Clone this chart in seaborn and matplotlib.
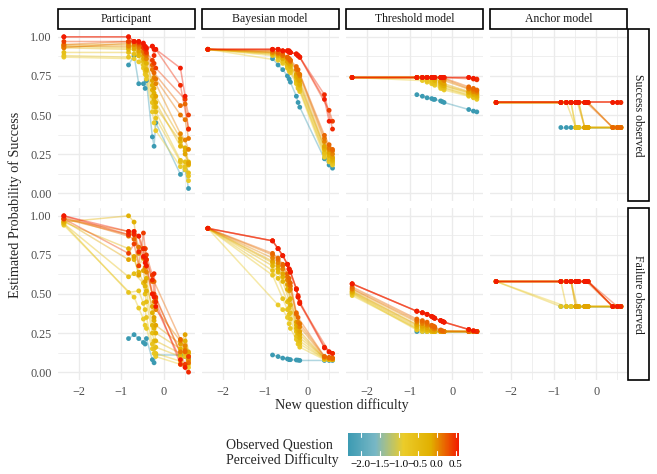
import matplotlib
matplotlib.use("Agg")
import matplotlib.pyplot as plt
import numpy as np
import pandas as pd
import seaborn as sns
from matplotlib.colorbar import ColorbarBase
from matplotlib.colors import LinearSegmentedColormap, Normalize
from matplotlib.patches import Rectangle

# difficulty of each question on the x axis (observed = row, new = column)
difficulty = [-2.35, -0.83, -0.70, -0.59, -0.48, -0.44, -0.41, -0.27, -0.23, -0.19, 0.39, 0.50, 0.58]
# perceived difficulty of the observed question (colour of each line)
perceived = [-2.35, -0.85, -0.70, -0.55, -0.30, -0.20, -0.10, 0.05, 0.12, 0.20, 0.40, 0.50, 0.58]

models = ["Participant", "Bayesian model", "Threshold model", "Anchor model"]
outcomes = ["Success observed", "Failure observed"]

participant_success = [
    [None, 0.82, 0.88, 0.70, 0.70, 0.67, 0.72, 0.36, 0.30, 0.45, 0.12, 0.15, 0.03],
    [0.87, None, 0.86, 0.84, 0.80, 0.76, 0.73, 0.52, 0.45, 0.40, 0.17, 0.15, 0.08],
    [0.88, 0.87, None, 0.88, 0.82, 0.78, 0.75, 0.58, 0.55, 0.48, 0.20, 0.17, 0.11],
    [0.90, 0.90, 0.89, None, 0.84, 0.80, 0.78, 0.62, 0.57, 0.52, 0.21, 0.20, 0.13],
    [0.93, 0.92, 0.92, 0.88, None, 0.85, 0.79, 0.66, 0.60, 0.55, 0.33, 0.27, 0.18],
    [0.94, 0.93, 0.94, 0.90, 0.86, None, 0.83, 0.69, 0.64, 0.58, 0.30, 0.29, 0.20],
    [0.95, 0.95, 0.93, 0.91, 0.88, 0.86, None, 0.72, 0.67, 0.62, 0.35, 0.25, 0.19],
    [0.94, 0.94, 0.95, 0.93, 0.90, 0.89, 0.86, None, 0.74, 0.70, 0.38, 0.34, 0.28],
    [0.93, 0.96, 0.96, 0.94, 0.91, 0.89, 0.88, 0.79, None, 0.73, 0.50, 0.47, 0.35],
    [0.95, 0.97, 0.97, 0.95, 0.93, 0.90, 0.89, 0.82, 0.77, None, 0.56, 0.57, 0.41],
    [0.97, 0.97, 0.97, 0.96, 0.93, 0.92, 0.90, 0.85, 0.83, 0.80, None, 0.60, 0.50],
    [1.00, 1.00, 0.97, 0.97, 0.95, 0.93, 0.92, 0.94, 0.88, 0.92, 0.69, None, 0.41],
    [1.00, 1.00, 0.97, 0.97, 0.96, 0.94, 0.93, 0.94, 0.92, 0.92, 0.80, 0.62, None],
]

participant_failure = [
    [None, 0.215, 0.24, 0.215, 0.19, 0.18, 0.215, 0.08, 0.06, 0.11, 0.11, 0.10, 0.09],
    [0.94, None, 0.48, 0.41, 0.34, 0.30, 0.28, 0.15, 0.12, 0.10, 0.05, 0.04, 0.03],
    [0.95, 0.51, None, 0.52, 0.44, 0.40, 0.35, 0.18, 0.15, 0.12, 0.07, 0.10, 0.05],
    [0.95, 0.61, 0.63, None, 0.57, 0.50, 0.45, 0.25, 0.20, 0.16, 0.10, 0.12, 0.07],
    [0.96, 0.79, 0.72, 0.64, None, 0.55, 0.52, 0.30, 0.28, 0.20, 0.12, 0.15, 0.10],
    [0.96, 1.00, 0.96, 0.68, 0.73, None, 0.60, 0.38, 0.33, 0.25, 0.15, 0.20, 0.12],
    [0.97, 0.72, 0.74, 0.62, 0.65, 0.58, None, 0.42, 0.35, 0.30, 0.18, 0.24, 0.13],
    [0.98, 0.90, 0.88, 0.76, 0.79, 0.67, 0.64, None, 0.45, 0.40, 0.20, 0.17, 0.08],
    [0.98, 0.88, 0.90, 0.80, 0.73, 0.72, 0.68, 0.50, None, 0.47, 0.13, 0.14, 0.10],
    [0.99, 0.87, 0.85, 0.87, 0.79, 0.79, 0.72, 0.58, 0.58, None, 0.21, 0.13, 0.06],
    [0.98, 0.76, 0.82, 0.68, 0.89, 0.79, 0.75, 0.62, 0.50, 0.48, None, 0.05, 0.10],
    [1.00, 0.88, 0.88, 0.77, 0.79, 0.73, 0.72, 0.59, 0.63, 0.45, 0.05, None, 0.00],
    [1.00, 0.90, 0.90, 0.87, 0.74, 0.70, 0.68, 0.50, 0.48, 0.42, 0.08, 0.03, None],
]

bayes_success = [
    [None, 0.86, 0.82, 0.79, 0.75, 0.73, 0.71, 0.62, 0.58, 0.55, 0.22, 0.18, 0.16],
    [0.92, None, 0.85, 0.83, 0.80, 0.78, 0.77, 0.70, 0.67, 0.65, 0.23, 0.20, 0.18],
    [0.92, 0.88, None, 0.84, 0.81, 0.79, 0.78, 0.71, 0.68, 0.66, 0.25, 0.21, 0.19],
    [0.92, 0.89, 0.87, None, 0.82, 0.80, 0.79, 0.72, 0.70, 0.67, 0.26, 0.22, 0.20],
    [0.92, 0.89, 0.88, 0.86, None, 0.82, 0.81, 0.74, 0.72, 0.69, 0.28, 0.24, 0.21],
    [0.92, 0.90, 0.88, 0.86, 0.84, None, 0.82, 0.75, 0.73, 0.70, 0.29, 0.25, 0.22],
    [0.92, 0.90, 0.89, 0.87, 0.84, 0.83, None, 0.76, 0.74, 0.72, 0.30, 0.26, 0.23],
    [0.92, 0.90, 0.89, 0.88, 0.86, 0.85, 0.84, None, 0.77, 0.75, 0.33, 0.28, 0.25],
    [0.92, 0.91, 0.90, 0.88, 0.87, 0.86, 0.85, 0.79, None, 0.76, 0.35, 0.29, 0.27],
    [0.92, 0.91, 0.90, 0.89, 0.87, 0.86, 0.85, 0.81, 0.79, None, 0.37, 0.31, 0.28],
    [0.92, 0.92, 0.92, 0.91, 0.91, 0.91, 0.90, 0.89, 0.88, 0.87, None, 0.53, 0.46],
    [0.92, 0.92, 0.92, 0.91, 0.91, 0.90, 0.90, 0.89, 0.88, 0.87, 0.63, None, 0.41],
    [0.92, 0.92, 0.92, 0.91, 0.91, 0.91, 0.90, 0.89, 0.88, 0.87, 0.60, 0.46, None],
]

bayes_failure = [
    [None, 0.11, 0.10, 0.09, 0.085, 0.08, 0.08, 0.078, 0.077, 0.075, 0.075, 0.075, 0.075],
    [0.92, None, 0.43, 0.40, 0.35, 0.31, 0.28, 0.21, 0.18, 0.16, 0.08, 0.08, 0.08],
    [0.92, 0.62, None, 0.47, 0.40, 0.37, 0.34, 0.23, 0.20, 0.18, 0.085, 0.08, 0.08],
    [0.92, 0.65, 0.60, None, 0.45, 0.41, 0.38, 0.26, 0.23, 0.20, 0.085, 0.08, 0.08],
    [0.92, 0.68, 0.64, 0.58, None, 0.46, 0.43, 0.28, 0.25, 0.22, 0.09, 0.085, 0.08],
    [0.92, 0.70, 0.66, 0.61, 0.53, None, 0.47, 0.30, 0.27, 0.24, 0.09, 0.085, 0.085],
    [0.92, 0.71, 0.68, 0.63, 0.56, 0.52, None, 0.32, 0.29, 0.26, 0.09, 0.09, 0.085],
    [0.92, 0.73, 0.70, 0.66, 0.59, 0.56, 0.53, None, 0.32, 0.29, 0.095, 0.09, 0.085],
    [0.92, 0.75, 0.72, 0.68, 0.61, 0.58, 0.55, 0.37, None, 0.31, 0.10, 0.09, 0.09],
    [0.92, 0.76, 0.73, 0.69, 0.63, 0.60, 0.57, 0.38, 0.35, None, 0.10, 0.095, 0.09],
    [0.92, 0.84, 0.79, 0.745, 0.69, 0.66, 0.645, 0.535, 0.48, 0.44, None, 0.13, 0.12],
    [0.92, 0.84, 0.79, 0.745, 0.69, 0.66, 0.64, 0.53, 0.49, 0.45, 0.16, None, 0.12],
    [0.92, 0.84, 0.79, 0.745, 0.69, 0.66, 0.64, 0.53, 0.48, 0.44, 0.155, 0.13, None],
]

threshold_success = [
    [None, 0.63, 0.62, 0.61, 0.605, 0.60, 0.60, 0.59, 0.585, 0.58, 0.535, 0.525, 0.52],
    [0.74, None, 0.72, 0.71, 0.70, 0.70, 0.69, 0.67, 0.67, 0.66, 0.62, 0.61, 0.60],
    [0.74, 0.74, None, 0.72, 0.71, 0.70, 0.70, 0.68, 0.675, 0.67, 0.625, 0.615, 0.61],
    [0.74, 0.74, 0.74, None, 0.72, 0.71, 0.71, 0.69, 0.68, 0.675, 0.63, 0.62, 0.615],
    [0.74, 0.74, 0.74, 0.74, None, 0.73, 0.72, 0.70, 0.69, 0.685, 0.64, 0.63, 0.62],
    [0.74, 0.74, 0.74, 0.74, 0.74, None, 0.73, 0.71, 0.70, 0.69, 0.645, 0.635, 0.63],
    [0.74, 0.74, 0.74, 0.74, 0.74, 0.74, None, 0.715, 0.705, 0.70, 0.65, 0.64, 0.635],
    [0.74, 0.74, 0.74, 0.74, 0.74, 0.74, 0.74, None, 0.73, 0.72, 0.665, 0.65, 0.645],
    [0.74, 0.74, 0.74, 0.74, 0.74, 0.74, 0.74, 0.74, None, 0.73, 0.67, 0.66, 0.655],
    [0.74, 0.74, 0.74, 0.74, 0.74, 0.74, 0.74, 0.74, 0.74, None, 0.68, 0.67, 0.66],
    [0.74, 0.74, 0.74, 0.74, 0.74, 0.74, 0.74, 0.74, 0.74, 0.74, None, 0.73, 0.725],
    [0.74, 0.74, 0.74, 0.74, 0.74, 0.74, 0.74, 0.74, 0.74, 0.74, 0.74, None, 0.73],
    [0.74, 0.74, 0.74, 0.74, 0.74, 0.74, 0.74, 0.74, 0.74, 0.74, 0.74, 0.735, None],
]

threshold_failure = [
    [None, 0.26, 0.26, 0.26, 0.26, 0.26, 0.26, 0.26, 0.26, 0.26, 0.26, 0.26, 0.26],
    [0.49, None, 0.26, 0.26, 0.26, 0.26, 0.26, 0.26, 0.26, 0.26, 0.26, 0.26, 0.26],
    [0.50, 0.27, None, 0.26, 0.26, 0.26, 0.26, 0.26, 0.26, 0.26, 0.26, 0.26, 0.26],
    [0.505, 0.28, 0.27, None, 0.26, 0.26, 0.26, 0.26, 0.26, 0.26, 0.26, 0.26, 0.26],
    [0.51, 0.29, 0.28, 0.27, None, 0.26, 0.26, 0.26, 0.26, 0.26, 0.26, 0.26, 0.26],
    [0.515, 0.30, 0.29, 0.28, 0.265, None, 0.26, 0.26, 0.26, 0.26, 0.26, 0.26, 0.26],
    [0.52, 0.305, 0.295, 0.285, 0.27, 0.265, None, 0.26, 0.26, 0.26, 0.26, 0.26, 0.26],
    [0.53, 0.32, 0.31, 0.30, 0.29, 0.28, 0.275, None, 0.26, 0.26, 0.26, 0.26, 0.26],
    [0.535, 0.33, 0.32, 0.31, 0.295, 0.29, 0.285, 0.265, None, 0.26, 0.26, 0.26, 0.26],
    [0.545, 0.34, 0.33, 0.32, 0.30, 0.295, 0.29, 0.27, 0.265, None, 0.26, 0.26, 0.26],
    [0.565, 0.39, 0.38, 0.37, 0.357, 0.35, 0.345, 0.33, 0.325, 0.32, None, 0.265, 0.26],
    [0.565, 0.39, 0.38, 0.37, 0.357, 0.35, 0.345, 0.33, 0.325, 0.32, 0.273, None, 0.26],
    [0.565, 0.39, 0.38, 0.37, 0.357, 0.35, 0.345, 0.33, 0.325, 0.32, 0.273, 0.265, None],
]

anchor_success = [
    [None, 0.42, 0.42, 0.42, 0.42, 0.42, 0.42, 0.42, 0.42, 0.42, 0.42, 0.42, 0.42],
    [0.58, None, 0.58, 0.58, 0.42, 0.42, 0.42, 0.42, 0.42, 0.42, 0.42, 0.42, 0.42],
    [0.58, 0.58, None, 0.58, 0.42, 0.42, 0.42, 0.42, 0.42, 0.42, 0.42, 0.42, 0.42],
    [0.58, 0.58, 0.58, None, 0.42, 0.42, 0.42, 0.42, 0.42, 0.42, 0.42, 0.42, 0.42],
    [0.58, 0.58, 0.58, 0.58, None, 0.58, 0.58, 0.42, 0.42, 0.42, 0.42, 0.42, 0.42],
    [0.58, 0.58, 0.58, 0.58, 0.58, None, 0.58, 0.42, 0.42, 0.42, 0.42, 0.42, 0.42],
    [0.58, 0.58, 0.58, 0.58, 0.58, 0.58, None, 0.42, 0.42, 0.42, 0.42, 0.42, 0.42],
    [0.58, 0.58, 0.58, 0.58, 0.58, 0.58, 0.58, None, 0.58, 0.58, 0.42, 0.42, 0.42],
    [0.58, 0.58, 0.58, 0.58, 0.58, 0.58, 0.58, 0.58, None, 0.58, 0.42, 0.42, 0.42],
    [0.58, 0.58, 0.58, 0.58, 0.58, 0.58, 0.58, 0.58, 0.58, None, 0.42, 0.42, 0.42],
    [0.58, 0.58, 0.58, 0.58, 0.58, 0.58, 0.58, 0.58, 0.58, 0.58, None, 0.58, 0.58],
    [0.58, 0.58, 0.58, 0.58, 0.58, 0.58, 0.58, 0.58, 0.58, 0.58, 0.58, None, 0.58],
    [0.58, 0.58, 0.58, 0.58, 0.58, 0.58, 0.58, 0.58, 0.58, 0.58, 0.58, 0.58, None],
]

anchor_failure = [
    [None, 0.42, 0.42, 0.42, 0.42, 0.42, 0.42, 0.42, 0.42, 0.42, 0.42, 0.42, 0.42],
    [0.58, None, 0.42, 0.42, 0.42, 0.42, 0.42, 0.42, 0.42, 0.42, 0.42, 0.42, 0.42],
    [0.58, 0.42, None, 0.42, 0.42, 0.42, 0.42, 0.42, 0.42, 0.42, 0.42, 0.42, 0.42],
    [0.58, 0.58, 0.42, None, 0.42, 0.42, 0.42, 0.42, 0.42, 0.42, 0.42, 0.42, 0.42],
    [0.58, 0.58, 0.58, 0.58, None, 0.42, 0.42, 0.42, 0.42, 0.42, 0.42, 0.42, 0.42],
    [0.58, 0.58, 0.58, 0.58, 0.42, None, 0.42, 0.42, 0.42, 0.42, 0.42, 0.42, 0.42],
    [0.58, 0.58, 0.58, 0.58, 0.42, 0.42, None, 0.42, 0.42, 0.42, 0.42, 0.42, 0.42],
    [0.58, 0.58, 0.58, 0.58, 0.58, 0.58, 0.58, None, 0.58, 0.58, 0.42, 0.42, 0.42],
    [0.58, 0.58, 0.58, 0.58, 0.58, 0.58, 0.58, 0.58, None, 0.58, 0.42, 0.42, 0.42],
    [0.58, 0.58, 0.58, 0.58, 0.58, 0.58, 0.58, 0.58, 0.58, None, 0.42, 0.42, 0.42],
    [0.58, 0.58, 0.58, 0.58, 0.58, 0.58, 0.58, 0.58, 0.58, 0.58, None, 0.42, 0.42],
    [0.58, 0.58, 0.58, 0.58, 0.58, 0.58, 0.58, 0.58, 0.58, 0.58, 0.42, None, 0.42],
    [0.58, 0.58, 0.58, 0.58, 0.58, 0.58, 0.58, 0.58, 0.58, 0.58, 0.42, 0.42, None],
]

panels = {
    ("Participant", "Success observed"): participant_success,
    ("Participant", "Failure observed"): participant_failure,
    ("Bayesian model", "Success observed"): bayes_success,
    ("Bayesian model", "Failure observed"): bayes_failure,
    ("Threshold model", "Success observed"): threshold_success,
    ("Threshold model", "Failure observed"): threshold_failure,
    ("Anchor model", "Success observed"): anchor_success,
    ("Anchor model", "Failure observed"): anchor_failure,
}

rows = []
for (model, outcome), matrix in panels.items():
    for i, values in enumerate(matrix):
        for j, p in enumerate(values):
            if p is None:
                continue
            rows.append({"model": model, "outcome": outcome,
                         "observed": perceived[i], "new": difficulty[j], "prob": p})
df = pd.DataFrame(rows)

# ---- style ----
sns.set_style("white")
plt.rcParams["font.family"] = ["Liberation Serif", "DejaVu Serif"]
plt.rcParams["axes.unicode_minus"] = True

zissou = LinearSegmentedColormap.from_list(
    "zissou", ["#3B9AB2", "#78B7C5", "#EBCC2A", "#E1AF00", "#F21A00"])
norm = Normalize(vmin=min(perceived), vmax=max(perceived))

W, H = 657, 474


def fig_box(left, top, width, height):
    return [left / W, 1 - (top + height) / H, width / W, height / H]


col_left = [57.7, 201.7, 346.0, 490.0]
row_top = [29.0, 208.0]
pw, ph = 137.0, 172.0

fig = plt.figure(figsize=(W / 100, H / 100), dpi=100)
grid_col = "#EBEBEB"
tick_col = "#4D4D4D"

for r, outcome in enumerate(outcomes):
    for c, model in enumerate(models):
        ax = fig.add_axes(fig_box(col_left[c], row_top[r], pw, ph))
        sub = df[(df["model"] == model) & (df["outcome"] == outcome)]
        sns.lineplot(data=sub, x="new", y="prob", hue="observed", units="observed",
                     estimator=None, palette=zissou, hue_norm=norm, alpha=0.4,
                     linewidth=1.1, legend=False, ax=ax)
        sns.scatterplot(data=sub, x="new", y="prob", hue="observed", palette=zissou,
                        hue_norm=norm, s=12, linewidth=0, legend=False, ax=ax, zorder=3)
        ax.set_xlim(-2.495, 0.725)
        ax.set_ylim(-0.05, 1.05)
        ax.set_xticks([-2, -1, 0])
        ax.set_xticks([-1.5, -0.5, 0.5], minor=True)
        ax.set_yticks([0, 0.25, 0.5, 0.75, 1.0])
        ax.set_yticks([0.125, 0.375, 0.625, 0.875], minor=True)
        ax.grid(which="major", color=grid_col, linewidth=1.0)
        ax.grid(which="minor", color=grid_col, linewidth=0.55)
        ax.set_axisbelow(True)
        ax.tick_params(which="both", length=0, labelsize=8.8, labelcolor=tick_col, pad=4.5)
        for s in ax.spines.values():
            s.set_visible(False)
        ax.set_xlabel("")
        ax.set_ylabel("")
        if c == 0:
            ax.set_yticklabels(["0.00", "0.25", "0.50", "0.75", "1.00"])
        else:
            ax.set_yticklabels([])
        if r == 1:
            ax.set_xticklabels(["\u22122", "\u22121", "0"])
        else:
            ax.set_xticklabels([])

# facet strips
for c, model in enumerate(models):
    fig.add_artist(Rectangle((col_left[c] / W, 1 - 29.0 / H), pw / W, 20.5 / H,
                             transform=fig.transFigure, facecolor="white",
                             edgecolor="black", linewidth=1.2))
    fig.text((col_left[c] + pw / 2) / W, 1 - 18.8 / H, model, ha="center", va="center",
             fontsize=8.5, color="#1A1A1A")
for r, outcome in enumerate(outcomes):
    fig.add_artist(Rectangle((628.0 / W, 1 - (row_top[r] + ph) / H), 20.5 / W, ph / H,
                             transform=fig.transFigure, facecolor="white",
                             edgecolor="black", linewidth=1.2))
    fig.text(638.2 / W, 1 - (row_top[r] + ph / 2) / H, outcome, ha="center", va="center",
             rotation=-90, fontsize=8.5, color="#1A1A1A")

# axis titles
fig.text(342.0 / W, 1 - 405.0 / H, "New question difficulty", ha="center", va="center",
         fontsize=10.2)
fig.text(15.0 / W, 1 - 205.0 / H, "Estimated Probability of Success", ha="center",
         va="center", rotation=90, fontsize=10.2)

# colour legend
fig.text(226.0 / W, 1 - 453.0 / H, "Observed Question\nPerceived Difficulty", ha="left",
         va="center", fontsize=10.0, linespacing=1.2)
cax = fig.add_axes(fig_box(347.5, 432.5, 111.5, 23.5))
bar_ticks = [-2.0, -1.5, -1.0, -0.5, 0.0, 0.5]
cb = ColorbarBase(cax, cmap=zissou, norm=norm, orientation="horizontal", ticks=bar_ticks)
cb.outline.set_visible(False)
cax.set_xticklabels([f"{t:.1f}".replace("-", "\u2212") for t in bar_ticks])
cax.tick_params(length=0, labelsize=8.0, labelcolor="black", pad=3)
for t in bar_ticks:
    cax.plot([t, t], [0.0, 0.2], color="white", linewidth=0.8, transform=cax.get_xaxis_transform())
    cax.plot([t, t], [0.8, 1.0], color="white", linewidth=0.8, transform=cax.get_xaxis_transform())

fig.savefig("out.png", dpi=100)
